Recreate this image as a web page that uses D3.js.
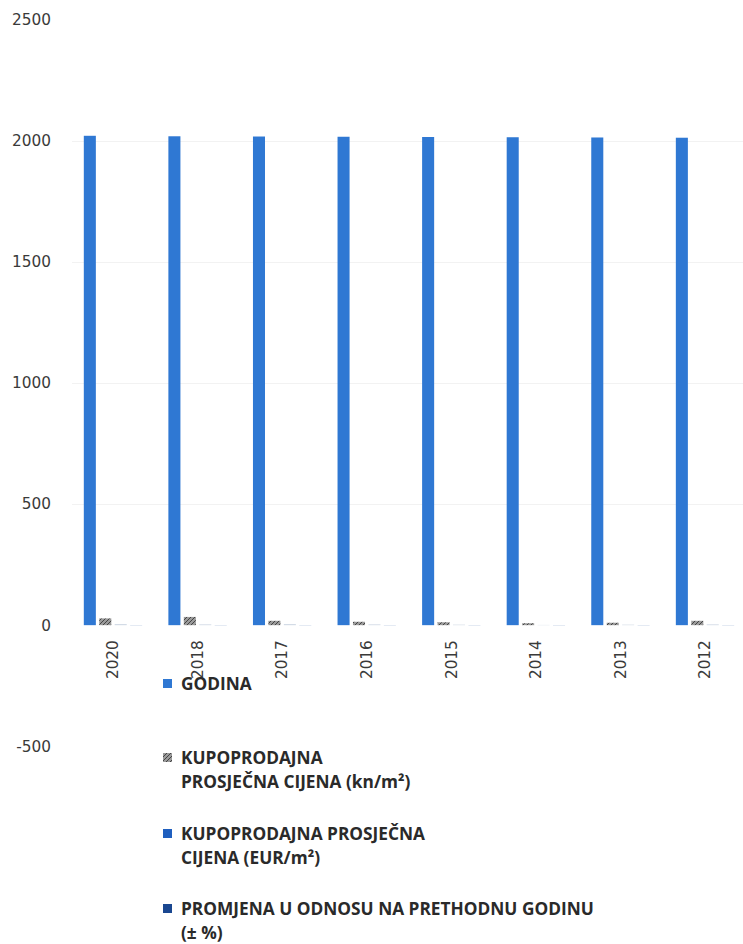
<!DOCTYPE html>
<html>
<head>
<meta charset="utf-8">
<script src="https://cdn.jsdelivr.net/npm/d3@7"></script>
<style>
  html, body { margin: 0; padding: 0; background: #fff; }
  svg { display: block; }
</style>
</head>
<body>
<svg id="chart" width="743" height="944"></svg>
<script>
// ---- data ----
const categories = ["2020", "2018", "2017", "2016", "2015", "2014", "2013", "2012"];
const godina = [2020, 2018, 2017, 2016, 2015, 2014, 2013, 2012];
const cijenaKn = [28, 34, 18, 14, 12, 8, 10, 18];
const cijenaEur = [4, 3, 4, 3, 2, 1, 2, 3];
const promjena = [0.5, 0.5, 0.5, 0.5, 0.5, 0.5, 0.5, 0.5];
const yTicks = [-500, 0, 500, 1000, 1500, 2000, 2500];
const seriesNames = ["GODINA", "cijenaKn", "cijenaEur", "promjena"];
const legendLines = [
  ["GODINA"],
  ["KUPOPRODAJNA", "PROSJEČNA CIJENA (kn/m²)"],
  ["KUPOPRODAJNA PROSJEČNA", "CIJENA (EUR/m²)"],
  ["PROMJENA U ODNOSU NA PRETHODNU GODINU", "(± %)"]
];

const svg = d3.select("#chart");
const defs = svg.append("defs");
const pat = defs.append("pattern").attr("id", "hatch").attr("patternUnits", "userSpaceOnUse")
  .attr("width", 4).attr("height", 4);
pat.append("rect").attr("width", 4).attr("height", 4).attr("fill", "#9a9a9a");
pat.append("path").attr("d", "M0,4 L4,0").attr("stroke", "#444").attr("stroke-width", 1);

const colors = ["#2f78d3", "url(#hatch)", "#c9d3e0", "#1d4f9c"];

const y = d3.scaleLinear().domain([-500, 2500]).range([746.3, 19.5]);
const x = d3.scaleBand().domain(categories).range([70.7, 747.3]).paddingInner(0.31).paddingOuter(0.155);
const xs = d3.scaleBand().domain(seriesNames).range([0, x.bandwidth()]).paddingInner(0.22);

// gridlines
svg.append("g").selectAll("line").data(yTicks.filter(d => d > 0 && d < 2500)).join("line")
  .attr("x1", 72).attr("x2", 743)
  .attr("y1", d => Math.round(y(d)) + 0.5).attr("y2", d => Math.round(y(d)) + 0.5)
  .attr("stroke", "#f2f2f2").attr("stroke-width", 1);

// y axis labels
const yAxis = d3.axisLeft(y).tickValues(yTicks).tickSize(0).tickPadding(0).tickFormat(d => String(d));
const gy = svg.append("g").attr("transform", "translate(51,0)").call(yAxis);
gy.select(".domain").remove();
gy.selectAll("text").attr("font-family", "DejaVu Sans, sans-serif").attr("font-size", "15.3px").attr("fill", "#3a3a3a");

// bars
const allSeries = [godina, cijenaKn, cijenaEur, promjena];
allSeries.forEach((vals, si) => {
  svg.append("g").selectAll("rect").data(vals).join("rect")
    .attr("x", (d, i) => x(categories[i]) + xs(seriesNames[si]))
    .attr("width", xs.bandwidth())
    .attr("y", d => y(Math.max(0, d)))
    .attr("height", d => Math.abs(y(d) - y(0)))
    .attr("fill", colors[si]);
});

// x axis labels (rotated)
const xAxis = d3.axisBottom(x).tickSize(0).tickPadding(0);
const gx = svg.append("g").attr("transform", `translate(0,${y(0)})`).call(xAxis);
gx.select(".domain").remove();
gx.selectAll("text")
  .attr("font-family", "DejaVu Sans, sans-serif").attr("font-size", "15.3px").attr("fill", "#3a3a3a")
  .attr("transform", "rotate(-90)")
  .attr("text-anchor", "end")
  .attr("x", -15).attr("y", 0).attr("dy", "0.35em");

// legend
const legendTop = [690, 764, 840, 915];
const legendColors = ["#2f78d3", "url(#hatch)", "#1f5fbf", "#1a4790"];
const lg = svg.append("g");
legendLines.forEach((lines, i) => {
  const g = lg.append("g");
  g.append("rect").attr("x", 163).attr("y", legendTop[i] - 11).attr("width", 9).attr("height", 9)
    .attr("fill", legendColors[i]);
  lines.forEach((t, j) => {
    g.append("text").attr("x", 181).attr("y", legendTop[i] + j * 23.5)
      .attr("font-family", "Open Sans, sans-serif").attr("font-weight", 700)
      .attr("font-size", "17.3px").attr("fill", "#2a2a2a").text(t);
  });
});
</script>
</body>
</html>
